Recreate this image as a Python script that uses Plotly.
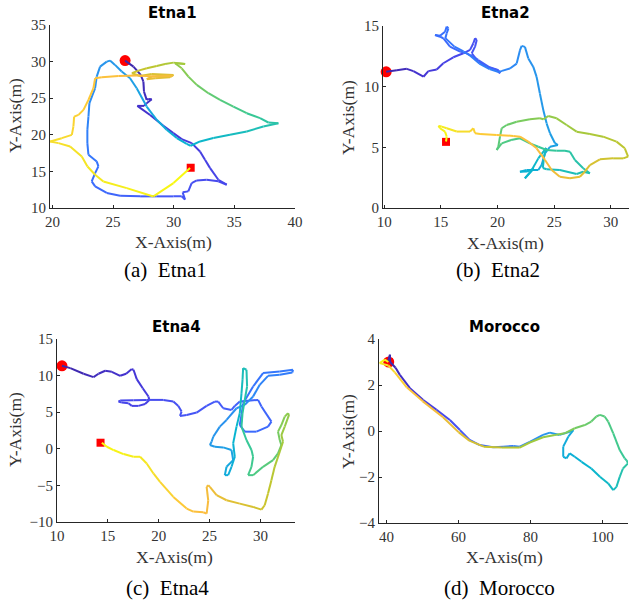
import numpy as np
import plotly.graph_objects as go

# ---------------- data ----------------
etna1_x = [25.99, 26.68, 27.28, 27.5, 27.55, 27.77, 27.9, 28.19, 27.77, 27.55, 27.0, 28.05, 29.15, 29.97, 30.66,
           31.48, 32.17, 32.58, 33.0, 33.68, 34.37, 33.68, 32.72, 31.9, 31.48, 31.2, 30.74, 30.93, 30.66, 29.97,
           28.6, 27.23, 25.58, 24.48, 23.52, 23.24, 23.52, 23.79, 23.65, 22.97, 22.88, 22.88, 22.97, 23.05, 23.52,
           23.65, 23.93, 24.48, 24.75, 25.16, 25.71, 26.4, 26.95, 27.77, 28.6, 29.42, 30.25, 31.07, 31.4, 32.17,
           33.27, 34.64, 36.02, 37.39, 38.63, 37.8, 37.12, 36.02, 34.92, 33.82, 32.86, 31.9, 31.21, 30.66, 30.11,
           30.94, 29.98, 29.29, 28.6, 27.78, 27.09, 26.55, 27.23, 28.19, 29.98, 29.7, 28.47, 27.78, 28.19, 29.3,
           29.9, 28.5, 27.0, 25.44, 24.07, 23.52, 23.38, 22.97, 22.56, 22.15, 21.79, 21.73, 21.6, 20.77, 19.81,
           20.5, 21.46, 22.42, 22.89, 23.52, 24.2, 26.13, 28.33, 29.98, 31.35]
etna1_y = [30.14, 29.32, 28.18, 27.27, 25.9, 24.77, 24.9, 24.86, 24.3, 23.95, 23.95, 22.7, 21.23, 20.23, 19.41,
           18.86, 17.73, 16.59, 15.45, 13.86, 13.18, 13.64, 13.86, 13.77, 13.41, 12.27, 12.14, 11.14, 11.6, 11.59,
           11.59, 11.59, 11.68, 12.05, 12.95, 13.64, 14.77, 15.68, 16.36, 17.27, 18.86, 20.68, 22.5, 24.32, 26.36,
           27.95, 29.32, 30.0, 30.14, 29.55, 28.64, 27.73, 26.36, 23.86, 22.05, 20.68, 19.55, 18.77, 18.5, 19.09,
           19.55, 20.0, 20.45, 21.14, 21.59, 21.68, 22.27, 22.95, 23.86, 24.77, 25.68, 26.82, 27.95, 29.09, 29.77,
           29.68, 29.86, 29.68, 29.41, 29.09, 28.77, 28.41, 28.04, 28.32, 28.18, 27.86, 27.73, 27.59, 27.95, 28.1,
           28.05, 27.95, 28.1, 28.04, 27.86, 27.73, 26.36, 24.77, 23.4, 22.72, 22.49, 21.13, 19.99, 19.54, 19.08,
           18.86, 18.4, 17.03, 15.67, 14.54, 13.62, 12.72, 11.58, 13.4, 15.45]
# colour keyframes along each track: (point index, colour fraction)
etna1_colour_keys = [(0, 0.0), (20, 0.10), (48, 0.30), (58, 0.40), (64, 0.47), (74, 0.63), (81, 0.72),
                     (92, 0.80), (104, 0.90), (114, 1.0)]

etna2_x = [10.18, 11.12, 12.0, 12.58, 13.47, 13.9, 14.64, 15.22, 16.1, 16.99, 17.58, 17.87, 18.02, 18.17, 18.02,
           17.73, 18.31, 19.05, 19.93, 20.22, 20.1, 19.3, 18.3, 17.3, 16.7, 15.81, 15.22, 14.93, 14.49, 14.93,
           15.37, 15.52, 15.67, 15.52, 15.4, 16.2, 17.0, 17.6, 18.4, 19.3, 20.1, 20.4, 21.1, 21.69, 21.98, 22.13,
           22.42, 22.72, 23.16, 23.45, 23.74, 24.04, 24.33, 24.63, 25.07, 25.33, 24.63, 24.19, 23.89, 23.6, 22.57,
           21.98, 22.6, 23.2, 22.42, 23.0, 23.6, 24.3, 24.1, 24.0, 24.33, 25.5, 26.98, 27.56, 28.15, 27.56, 26.83,
           26.39, 25.95, 25.22, 24.33, 23.6, 22.86, 21.98, 21.2, 20.37, 19.93, 20.07, 20.22, 20.37, 20.81, 21.69,
           22.86, 23.74, 24.04, 24.48, 25.22, 26.1, 26.98, 28.15, 29.32, 30.5, 31.23, 31.52, 31.09, 30.2, 29.03,
           28.15, 27.7, 27.27, 26.39, 25.5, 24.78, 24.19, 23.45, 22.71, 21.98, 21.39, 19.93, 18.46, 18.02, 17.87,
           17.58, 16.4, 15.52, 15.08, 14.79, 14.93, 15.37, 15.52, 15.46]
etna2_y = [11.22, 11.36, 11.47, 11.28, 10.82, 11.28, 11.42, 11.93, 12.42, 12.75, 13.03, 13.58, 13.99, 13.85, 13.3,
           12.75, 12.06, 11.65, 11.38, 11.1, 11.35, 11.6, 12.2, 12.75, 12.89, 13.3, 13.99, 14.12, 14.26, 14.2,
           14.53, 14.95, 14.81, 14.4, 14.0, 13.3, 12.9, 12.55, 11.9, 11.45, 11.2, 11.3, 11.5, 11.9, 13.0, 13.36,
           13.28, 12.32, 11.63, 10.81, 9.44, 8.07, 6.98, 6.16, 5.34, 5.19, 5.05, 4.5, 3.54, 3.13, 3.13,
           2.99, 3.0, 3.25, 2.45, 3.1, 4.09, 4.95, 4.2, 3.3, 3.19, 3.13, 2.8, 2.99, 2.86, 3.27, 3.96,
           4.64, 4.72, 4.72, 4.78, 5.05, 5.33, 5.74, 5.6, 5.33, 4.78, 5.05, 5.88, 6.57, 6.84, 7.11,
           7.31, 7.39, 7.31, 7.58, 7.39, 6.84, 6.29, 6.1, 5.88, 5.47, 4.92, 4.23, 4.09, 4.09, 4.01,
           3.54, 2.99, 2.58, 2.45, 2.58, 3.13, 3.96, 4.92, 5.47, 5.88, 5.94, 6.02, 6.1, 6.16, 6.57,
           6.3, 6.3, 6.57, 6.71, 6.76, 6.57, 6.3, 5.89, 5.48]
etna2_colour_keys = [(0, 0.0), (10, 0.12), (40, 0.24), (45, 0.28), (55, 0.33), (61, 0.39), (74, 0.46),
                     (83, 0.52), (89, 0.56), (94, 0.62), (103, 0.70), (112, 0.78), (120, 0.86), (130, 1.0)]

etna4_x = [10.49, 11.31, 12.61, 13.59, 14.08, 14.74, 15.39, 16.21, 16.8, 17.35, 17.52, 17.84, 18.43, 18.99, 19.08,
           18.66, 18.01, 17.35, 17.03, 16.37, 16.05, 16.21, 17.52, 18.82, 20.46, 21.44, 21.93, 22.25, 22.09, 22.75,
           23.73, 24.71, 25.52, 25.85, 26.34, 27.16, 27.48, 27.97, 29.77, 30.1, 31.08, 30.75, 29.61, 28.46, 27.97,
           28.14, 28.3, 29.28, 30.26, 31.9, 33.2, 33.14, 31.9, 30.75, 29.93, 29.28, 28.46, 27.65, 26.67, 26.01,
           25.36, 25.2, 25.03, 25.52, 26.34, 27.16, 27.32, 26.67, 26.5, 26.83, 27.16, 27.48, 27.32, 27.65, 27.97,
           28.14, 28.24, 28.3, 28.63, 28.69, 28.46, 28.24, 28.14, 28.63, 29.12, 29.28, 29.12, 28.79, 29.28, 30.26,
           31.24, 31.73, 32.06, 31.9, 31.73, 32.06, 32.39, 32.71, 32.81, 32.39, 32.06, 32.22, 31.9, 31.4, 31.08,
           30.75, 30.42, 30.1, 29.28, 27.97, 26.67, 25.69, 25.03, 24.87, 24.71, 24.87, 24.71, 24.38, 23.4, 22.75,
           21.44, 20.13, 19.48, 18.82, 18.17, 17.52, 16.54, 15.56, 14.9, 14.41]
etna4_y = [11.34, 11.02, 10.25, 9.79, 10.25, 10.66, 10.52, 9.97, 10.25, 10.89, 10.8, 9.52, 8.28, 7.14, 6.68,
           6.13, 5.86, 5.86, 6.22, 6.31, 6.45, 6.59, 6.64, 6.68, 6.68, 6.45, 5.86, 5.08, 4.49, 4.63,
           4.95, 5.86, 6.45, 6.45, 5.54, 5.31, 5.86, 6.45, 6.68, 5.77, 3.71, 3.03, 2.34, 2.34, 3.25,
           4.63, 6.22, 8.51, 10.34, 10.57, 10.8, 10.43, 10.11, 9.97, 8.74, 7.14, 6.0, 5.54, 3.94, 3.03,
           1.65, 0.97, 0.51, 0.28, 0.19, -0.17, -1.55, -2.46, -3.6, -3.6, -2.46, -1.09, 0.74, 3.03, 4.86,
           7.6, 9.42, 11.02, 10.8, 8.51, 6.68, 4.86, 3.03, 1.2, -0.17, -1.09, -2.46, -3.6, -3.6, -2.46,
           -1.54, -0.63, 0.51, 1.2, 2.34, 3.25, 4.4, 4.86, 4.63, 3.03, 1.88, 0.97, -0.4, -2.46, -4.29,
           -6.11, -7.71, -8.31, -7.94, -7.49, -7.03, -6.34, -5.2, -4.97, -5.2, -7.03, -8.86, -8.67, -8.58, -8.17,
           -6.57, -4.52, -3.37, -2.0, -1.09, -1.09, -0.72, -0.17, 0.28, 0.83]
etna4_colour_keys = [(0, 0.0), (20, 0.10), (38, 0.17), (50, 0.22), (60, 0.30), (68, 0.37), (77, 0.45),
                     (87, 0.52), (97, 0.62), (107, 0.72), (113, 0.78), (116, 0.80), (129, 1.0)]

morocco_x = [40.46, 40.93, 41.0, 42.5, 43.7, 46.5, 50.2, 53.9, 57.6, 60.4, 63.1, 65.9, 69.6, 72.4, 75.2, 77.0,
             79.8, 83.5, 85.4, 88.1, 90.9, 91.9, 90.5, 89.1, 89.1, 90.0, 90.9, 92.3, 94.2, 96.9, 99.3, 101.6,
             103.0, 103.9, 104.8, 105.7, 107.1, 106.7, 106.2, 104.8, 103.0, 101.6, 100.6, 99.3, 98.3, 96.9, 95.1,
             92.3, 89.5, 86.76, 83.5, 79.8, 77.0, 72.0, 67.0, 63.0, 60.0, 55.7, 50.0, 45.6, 42.3, 40.5, 38.1,
             39.5, 40.5]
morocco_y = [3.03, 3.32, 3.0, 2.75, 2.44, 1.86, 1.35, 0.92, 0.48, 0.04, -0.39, -0.61, -0.71, -0.68, -0.65, -0.68,
             -0.47, -0.17, -0.07, -0.17, -0.03, 0.04, -0.25, -0.68, -1.12, -1.19, -0.97, -1.12, -1.34, -1.63, -1.99,
             -2.28, -2.57, -2.43, -1.99, -1.63, -1.41, -1.27, -1.2, -0.83, -0.1, 0.41, 0.63, 0.7, 0.63, 0.41, 0.26,
             0.12, -0.1, -0.17, -0.27, -0.5, -0.72, -0.72, -0.68, -0.42, -0.05, 0.6, 1.3, 1.9, 2.55, 2.85, 2.95,
             3.1, 3.0]
morocco_colour_keys = [(0, 0.0), (18, 0.30), (21, 0.36), (32, 0.43), (36, 0.49), (43, 0.55), (49, 0.62),
                       (54, 0.72), (58, 0.80), (61, 0.90), (64, 1.0)]

start_points = [(25.99, 30.14), (10.18, 11.22), (10.49, 11.34), (40.6, 3.0)]
end_points = [(31.4, 15.5), (15.46, 5.45), (14.28, 0.83), (40.6, 3.0)]

titles = ["Etna1", "Etna2", "Etna4", "Morocco"]
captions = ["(a)  Etna1", "(b)  Etna2", "(c)  Etna4", "(d)  Morocco"]
x_ranges = [[19.8, 40], [9.9, 31.6], [10, 33.4], [37.9, 107.1]]
y_ranges = [[10, 35], [0, 15], [-10, 15], [-4, 4]]
x_ticks = [[20, 25, 30, 35, 40], [10, 15, 20, 25, 30], [10, 15, 20, 25, 30], [40, 60, 80, 100]]
y_ticks = [[10, 15, 20, 25, 30, 35], [0, 5, 10, 15], [-10, -5, 0, 5, 10, 15], [-4, -2, 0, 2, 4]]

# ---------------- styling ----------------
W, H = 629, 602
# axes boxes in pixels: left, right, top, bottom
boxes = [(50, 295, 25, 208), (383, 629, 26, 208), (57, 295, 339, 522), (379, 628, 339, 523)]
title_pos = [(172, 13), (505, 13), (176, 327), (504, 327)]
xlab_pos = [(173, 242), (505, 243), (175, 557), (504, 557)]
ylab_pos = [(15, 116), (348, 117), (15, 430), (348, 431)]
cap_pos = [(165, 270), (498, 270), (167, 588), (499, 588)]

PARULA = [
    (0.00, (0.2422, 0.1504, 0.6603)), (0.05, (0.2691, 0.2052, 0.8319)), (0.10, (0.2803, 0.2782, 0.9221)),
    (0.15, (0.2716, 0.3562, 0.9752)), (0.20, (0.2161, 0.4405, 0.9955)), (0.25, (0.1786, 0.5289, 0.9682)),
    (0.30, (0.1540, 0.5902, 0.9218)), (0.35, (0.0964, 0.6502, 0.8784)), (0.40, (0.0257, 0.7054, 0.8181)),
    (0.45, (0.1157, 0.7460, 0.7221)), (0.50, (0.2161, 0.7843, 0.5923)), (0.55, (0.3597, 0.7939, 0.4723)),
    (0.60, (0.5044, 0.7993, 0.3480)), (0.65, (0.6384, 0.7880, 0.2411)), (0.70, (0.7676, 0.7734, 0.1772)),
    (0.75, (0.8857, 0.7502, 0.2039)), (0.80, (0.9859, 0.7362, 0.2478)), (0.85, (0.9942, 0.7960, 0.2088)),
    (0.90, (0.9640, 0.8679, 0.1700)), (0.95, (0.9598, 0.9311, 0.1126)), (1.00, (0.9763, 0.9831, 0.0538)),
]


def parula(t):
    t = min(max(t, 0.0), 1.0)
    for (t0, c0), (t1, c1) in zip(PARULA[:-1], PARULA[1:]):
        if t <= t1:
            f = (t - t0) / (t1 - t0) if t1 > t0 else 0
            c = [c0[k] + f * (c1[k] - c0[k]) for k in range(3)]
            return "rgb(%d,%d,%d)" % tuple(int(round(v * 255)) for v in c)
    c = PARULA[-1][1]
    return "rgb(%d,%d,%d)" % tuple(int(round(v * 255)) for v in c)


fig = go.Figure()
tracks = [(etna1_x, etna1_y, etna1_colour_keys), (etna2_x, etna2_y, etna2_colour_keys),
          (etna4_x, etna4_y, etna4_colour_keys), (morocco_x, morocco_y, morocco_colour_keys)]
AX_COLOR = "#262626"
TICK_FONT = dict(family="Liberation Serif", size=15, color="#333333")

layout = dict(width=W, height=H, margin=dict(l=0, r=0, t=0, b=0), paper_bgcolor="white",
              plot_bgcolor="white", showlegend=False)

annotations = []
for i in range(4):
    n = "" if i == 0 else str(i + 1)
    xa, ya = "x" + n, "y" + n
    l, r, t, b = boxes[i]
    common = dict(ticks="inside", ticklen=3, tickcolor=AX_COLOR, showline=True, linecolor=AX_COLOR,
                  linewidth=1, showgrid=False, zeroline=False, tickfont=TICK_FONT, mirror=False,
                  automargin=False)
    layout["xaxis" + n] = dict(domain=[l / W, r / W], range=x_ranges[i], anchor=ya, tickvals=x_ticks[i], **common)
    layout["yaxis" + n] = dict(domain=[1 - b / H, 1 - t / H], range=y_ranges[i], anchor=xa, tickvals=y_ticks[i],
                               **common)

    # end square and start circle (below the trajectory)
    ex, ey = end_points[i]
    sx, sy = start_points[i]
    fig.add_trace(go.Scatter(x=[ex], y=[ey], mode="markers", xaxis=xa, yaxis=ya, cliponaxis=False,
                             marker=dict(symbol="square", size=8, color="#ff0000"), hoverinfo="skip"))
    fig.add_trace(go.Scatter(x=[sx], y=[sy], mode="markers", xaxis=xa, yaxis=ya, cliponaxis=False,
                             marker=dict(symbol="circle", size=11, color="#ff0000"), hoverinfo="skip"))

    xs = np.asarray(tracks[i][0], float)
    ys = np.asarray(tracks[i][1], float)
    keys = tracks[i][2]
    seg = np.hypot(np.diff(xs), np.diff(ys))
    s = np.concatenate([[0], np.cumsum(seg)])
    key_idx = [min(k, len(xs) - 1) for k, _ in keys]
    tval = np.interp(s, s[key_idx], [v for _, v in keys])
    for k in range(len(xs) - 1):
        tm = 0.5 * (tval[k] + tval[k + 1])
        fig.add_trace(go.Scatter(x=xs[k:k + 2], y=ys[k:k + 2], mode="lines", xaxis=xa, yaxis=ya,
                                 line=dict(color=parula(tm), width=2), hoverinfo="skip"))

    def P(px, py):
        return px / W, 1 - py / H

    x0, y0 = P(*title_pos[i])
    annotations.append(dict(text="<b>%s</b>" % titles[i], x=x0, y=y0, xref="paper", yref="paper",
                            showarrow=False, xanchor="center", yanchor="middle",
                            font=dict(family="DejaVu Sans", size=15, color="black")))
    x0, y0 = P(*xlab_pos[i])
    annotations.append(dict(text="X-Axis(m)", x=x0, y=y0, xref="paper", yref="paper", showarrow=False,
                            xanchor="center", yanchor="middle",
                            font=dict(family="Liberation Serif", size=17.5, color="#333333")))
    x0, y0 = P(*ylab_pos[i])
    annotations.append(dict(text="Y-Axis(m)", x=x0, y=y0, xref="paper", yref="paper", showarrow=False,
                            xanchor="center", yanchor="middle", textangle=-90,
                            font=dict(family="Liberation Serif", size=17.5, color="#333333")))
    x0, y0 = P(*cap_pos[i])
    annotations.append(dict(text=captions[i], x=x0, y=y0, xref="paper", yref="paper", showarrow=False,
                            xanchor="center", yanchor="middle",
                            font=dict(family="Liberation Serif", size=21, color="black")))

layout["annotations"] = annotations
fig.update_layout(**layout)
fig.write_html("out.html", config={"displayModeBar": False},
               post_script="document.body.style.margin='0px';document.body.style.overflow='hidden';")
